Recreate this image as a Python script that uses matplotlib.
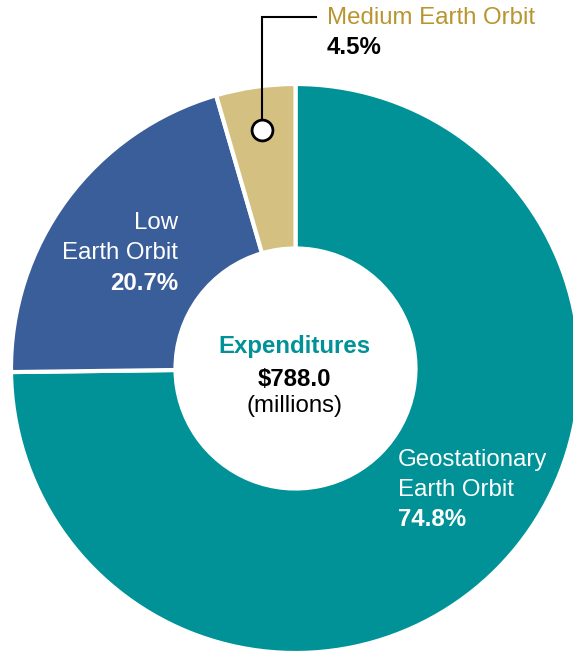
import matplotlib
matplotlib.use("Agg")
import matplotlib.pyplot as plt

plt.rcParams['font.family'] = ['Liberation Sans', 'DejaVu Sans']

labels = ['Geostationary\nEarth Orbit', 'Low\nEarth Orbit', 'Medium Earth Orbit']
shares = [74.8, 20.7, 4.5]
colors = ['#009296', '#3A5E99', '#D4C080']
total = '$788.0'

W, H = 573, 652
fig = plt.figure(figsize=(W / 100, H / 100), dpi=100)
ax = fig.add_axes([0, 0, 1, 1])

cx, cy = 295.5, H - 368.5
R = 284.5
ax.pie(shares, colors=colors, startangle=90, counterclock=False,
       center=(cx, cy), radius=R, frame=True,
       wedgeprops=dict(width=R - 120, edgecolor='white', linewidth=3))
ax.set_xlim(0, W)
ax.set_ylim(0, H)
ax.axis('off')

fs = 17.3
# center text
ax.text(cx - 1, H - 346, 'Expenditures', ha='center', va='center', fontsize=fs,
        fontweight='bold', color='#009296')
ax.text(cx - 1, H - 380, total, ha='center', va='center', fontsize=fs,
        fontweight='bold', color='black')
ax.text(cx - 1, H - 406, '(millions)', ha='center', va='center', fontsize=fs,
        color='black')

# GEO label
geo = labels[0].split('\n')
ax.text(398, H - 460, geo[0], ha='left', va='center', fontsize=fs, color='white')
ax.text(398, H - 490, geo[1], ha='left', va='center', fontsize=fs, color='white')
ax.text(398, H - 520, f'{shares[0]}%', ha='left', va='center', fontsize=fs,
        fontweight='bold', color='white')

# LEO label
leo = labels[1].split('\n')
ax.text(178, H - 223, leo[0], ha='right', va='center', fontsize=fs, color='white')
ax.text(178, H - 253, leo[1], ha='right', va='center', fontsize=fs, color='white')
ax.text(178, H - 283, f'{shares[1]}%', ha='right', va='center', fontsize=fs,
        fontweight='bold', color='white')

# MEO callout
ax.plot([262, 262, 316], [H - 130, H - 17, H - 17], color='black', lw=1.5,
        solid_joinstyle='miter', zorder=5)
ax.plot([262], [H - 130], marker='o', ms=15, mfc='white', mec='black', mew=2, zorder=6)
ax.text(327, H - 18, labels[2], ha='left', va='center', fontsize=fs, color='#B8952E')
ax.text(327, H - 47, f'{shares[2]}%', ha='left', va='center', fontsize=fs,
        fontweight='bold', color='black')

fig.savefig('out.png', dpi=100)
